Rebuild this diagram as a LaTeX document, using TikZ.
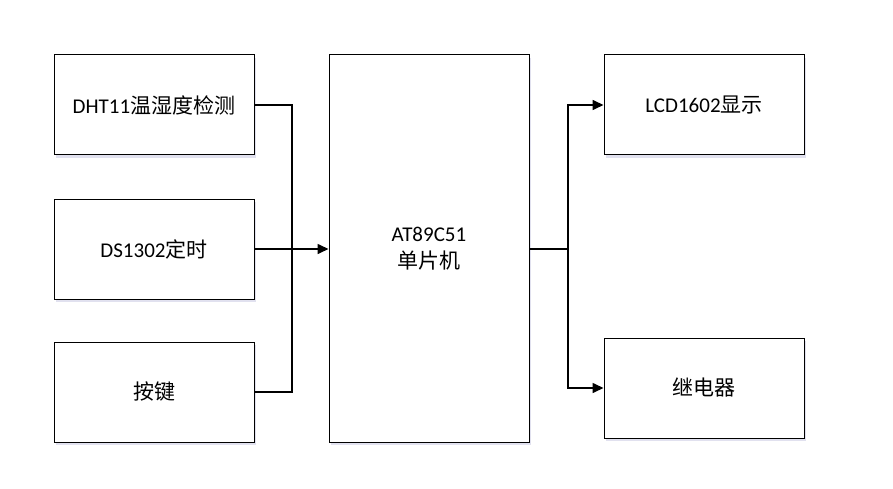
\documentclass[tikz,border=0pt]{standalone}
\usepackage{fontspec}
\setmainfont{Carlito}
\newfontfamily\cjk{Noto Sans CJK SC}
\usetikzlibrary{arrows.meta,positioning,shadows}

\begin{document}
\begin{tikzpicture}[x=1pt, y=-1pt, >={Triangle[length=11pt,width=10pt]},
    font=\fontsize{21}{27}\selectfont,
    modbox/.style={draw, line width=1pt, fill=white, minimum width=200pt, minimum height=100pt,
      align=center, inner sep=0pt,
      drop shadow={shadow xshift=2pt, shadow yshift=-3pt, fill=blue!30!gray, opacity=0.18}},
    link/.style={line width=1.6pt}]
  \useasboundingbox (0,0) rectangle (893,489);
  % input modules
  \node[modbox] (dht) at (154,105) {DHT11{\cjk 温湿度检测}};
  \node[modbox] (ds) at (154,249) {DS1302{\cjk 定时}};
  \node[modbox] (key) at (154,392) {{\cjk 按键}};
  % controller
  \node[modbox, minimum height=387pt] (mcu) at (429,248.5) {AT89C51\\{\cjk 单片机}};
  % output modules
  \node[modbox] (lcd) at (704,105) {LCD1602{\cjk 显示}};
  \node[modbox] (relay) at (704,388) {{\cjk 继电器}};
  % input bus
  \coordinate (busin) at (292,249);
  \draw[link] (dht.east) -| (busin);
  \draw[link] (key.east) -| (busin);
  \draw[link, ->] (ds.east) -- (ds.east -| mcu.west);
  % output bus
  \coordinate (busout) at (568,249);
  \draw[link] (busout -| mcu.east) -- (busout);
  \draw[link, ->] (busout) |- (lcd.west);
  \draw[link, ->] (busout) |- (relay.west);
\end{tikzpicture}
\end{document}
